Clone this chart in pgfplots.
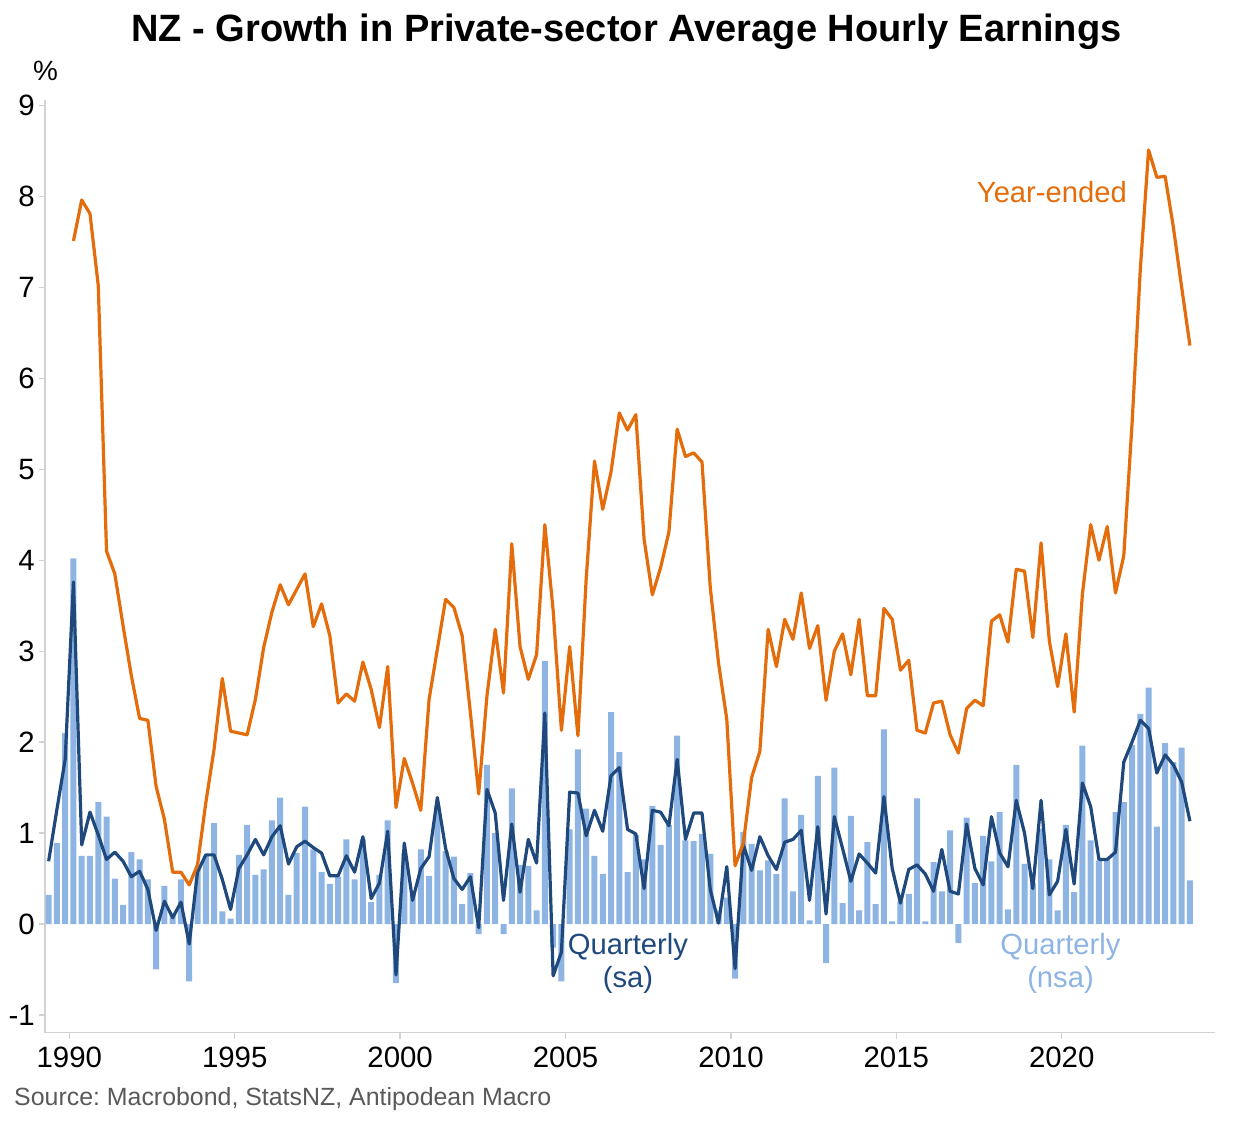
\documentclass[border=0pt]{standalone}
\usepackage{fontspec}
\setmainfont{Liberation Sans}
\usepackage{pgfplots}
\usepackage{pgfplotstable}
\pgfplotsset{compat=1.18}
\definecolor{orangeye}{RGB}{228,108,10}
\definecolor{darkblue}{RGB}{31,73,125}
\definecolor{lightblue}{RGB}{142,180,227}
\definecolor{axisgray}{RGB}{210,210,210}
\definecolor{srcgray}{RGB}{89,89,89}

\pgfplotstableread{
t nsa sa ye
1989.375 0.32 0.69 nan
1989.625 0.89 1.26 nan
1989.875 2.10 1.81 nan
1990.125 4.02 3.76 7.51
1990.375 0.75 0.87 7.96
1990.625 0.75 1.23 7.81
1990.875 1.34 0.98 7.02
1991.125 1.18 0.71 4.10
1991.375 0.50 0.79 3.85
1991.625 0.21 0.69 3.28
1991.875 0.79 0.52 2.73
1992.125 0.71 0.58 2.26
1992.375 0.49 0.38 2.24
1992.625 -0.50 -0.07 1.51
1992.875 0.42 0.25 1.15
1993.125 0.10 0.07 0.57
1993.375 0.49 0.24 0.57
1993.625 -0.63 -0.22 0.43
1993.875 0.60 0.57 0.65
1994.125 0.75 0.76 1.33
1994.375 1.11 0.76 1.92
1994.625 0.14 0.49 2.70
1994.875 0.06 0.16 2.12
1995.125 0.76 0.61 2.10
1995.375 1.09 0.76 2.08
1995.625 0.54 0.93 2.47
1995.875 0.60 0.76 3.04
1996.125 1.14 0.96 3.43
1996.375 1.39 1.08 3.73
1996.625 0.32 0.66 3.51
1996.875 0.78 0.85 3.68
1997.125 1.29 0.91 3.85
1997.375 0.82 0.84 3.27
1997.625 0.57 0.78 3.52
1997.875 0.44 0.53 3.17
1998.125 0.52 0.53 2.43
1998.375 0.93 0.75 2.53
1998.625 0.49 0.57 2.45
1998.875 0.93 0.96 2.88
1999.125 0.24 0.28 2.58
1999.375 0.54 0.45 2.16
1999.625 1.14 1.02 2.83
1999.875 -0.65 -0.56 1.28
2000.125 0.78 0.89 1.82
2000.375 0.32 0.26 1.55
2000.625 0.82 0.61 1.25
2000.875 0.53 0.74 2.47
2001.125 1.30 1.39 3.02
2001.375 0.80 0.83 3.57
2001.625 0.74 0.50 3.48
2001.875 0.22 0.38 3.17
2002.125 0.56 0.52 2.32
2002.375 -0.11 -0.04 1.43
2002.625 1.75 1.48 2.51
2002.875 1.00 1.22 3.24
2003.125 -0.11 0.26 2.54
2003.375 1.49 1.10 4.18
2003.625 0.65 0.35 3.05
2003.875 0.64 0.93 2.69
2004.125 0.15 0.67 2.96
2004.375 2.89 2.32 4.39
2004.625 -0.26 -0.57 3.45
2004.875 -0.63 -0.31 2.13
2005.125 1.04 1.45 3.05
2005.375 1.92 1.44 2.07
2005.625 1.27 0.97 3.80
2005.875 0.75 1.25 5.09
2006.125 0.55 1.02 4.56
2006.375 2.33 1.63 4.97
2006.625 1.89 1.72 5.62
2006.875 0.57 1.04 5.43
2007.125 0.98 0.99 5.60
2007.375 0.71 0.39 4.23
2007.625 1.30 1.25 3.62
2007.875 0.87 1.23 3.92
2008.125 1.09 1.08 4.31
2008.375 2.07 1.81 5.44
2008.625 0.92 0.93 5.14
2008.875 0.91 1.22 5.18
2009.125 0.99 1.22 5.08
2009.375 0.77 0.38 3.70
2009.625 0.15 0.01 2.87
2009.875 0.29 0.63 2.25
2010.125 -0.60 -0.49 0.64
2010.375 1.01 0.87 0.89
2010.625 0.88 0.59 1.61
2010.875 0.59 0.96 1.90
2011.125 0.70 0.75 3.24
2011.375 0.55 0.60 2.83
2011.625 1.38 0.90 3.35
2011.875 0.36 0.93 3.13
2012.125 1.20 1.03 3.64
2012.375 0.04 0.26 3.03
2012.625 1.63 1.07 3.28
2012.875 -0.43 0.11 2.46
2013.125 1.72 1.18 3.00
2013.375 0.23 0.83 3.19
2013.625 1.19 0.47 2.74
2013.875 0.15 0.77 3.35
2014.125 0.90 0.67 2.51
2014.375 0.22 0.56 2.51
2014.625 2.14 1.40 3.47
2014.875 0.03 0.61 3.35
2015.125 0.25 0.23 2.79
2015.375 0.33 0.60 2.90
2015.625 1.38 0.65 2.13
2015.875 0.03 0.55 2.10
2016.125 0.68 0.36 2.43
2016.375 0.36 0.82 2.45
2016.625 1.03 0.36 2.08
2016.875 -0.21 0.33 1.88
2017.125 1.17 1.10 2.37
2017.375 0.45 0.61 2.46
2017.625 0.97 0.43 2.40
2017.875 0.69 1.18 3.33
2018.125 1.23 0.78 3.40
2018.375 0.16 0.63 3.10
2018.625 1.75 1.36 3.90
2018.875 0.66 1.00 3.88
2019.125 0.45 0.39 3.15
2019.375 1.05 1.36 4.19
2019.625 0.71 0.32 3.11
2019.875 0.15 0.47 2.61
2020.125 1.09 1.04 3.19
2020.375 0.35 0.44 2.33
2020.625 1.96 1.55 3.63
2020.875 0.92 1.29 4.39
2021.125 0.70 0.71 4.00
2021.375 0.70 0.71 4.37
2021.625 1.23 0.79 3.64
2021.875 1.34 1.78 4.05
2022.125 1.97 2.00 5.50
2022.375 2.31 2.24 7.20
2022.625 2.60 2.15 8.51
2022.875 1.07 1.66 8.21
2023.125 1.99 1.86 8.22
2023.375 1.78 1.75 7.66
2023.625 1.94 1.56 7.00
2023.875 0.48 1.13 6.36
}\datatable

\begin{document}
\frenchspacing
\begin{tikzpicture}
\path[use as bounding box] (0,0) rectangle (1253bp,1122bp);
\begin{axis}[
  at={(45bp,89.3bp)}, anchor=south west,
  scale only axis, width=1170bp, height=932.7bp,
  xmin=1989.265, xmax=2024.634, ymin=-1.195, ymax=9.06,
  axis x line*=bottom, axis y line*=left,
  axis line style={axisgray, line width=1.3bp},
  xtick={1990,1995,2000,2005,2010,2015,2020},
  ytick={-1,0,1,2,3,4,5,6,7,8,9},
  tick align=outside, major tick length=6bp,
  tick style={axisgray, line width=1.3bp},
  /pgf/number format/assume math mode=true,
  /pgf/number format/1000 sep={},
  xticklabel style={font=\fontsize{29.5}{30}\selectfont, anchor=north, inner sep=0pt, yshift=-8bp},
  yticklabel style={font=\fontsize{29.5}{30}\selectfont, anchor=east, inner sep=0pt, xshift=-4bp},
]
\addplot[ybar, bar width=6bp, bar shift=0pt, fill=lightblue, draw=none] table[x=t, y=nsa]{\datatable};
\addplot[darkblue, line width=3.2bp, no markers, line join=round] table[x=t, y=sa]{\datatable};
\addplot[orangeye, line width=3.2bp, no markers, line join=round] table[x=t, y=ye]{\datatable};
\end{axis}
\node[font=\bfseries\fontsize{38.2}{40}\selectfont, anchor=base] at (626.5bp,1080bp) {NZ - Growth in Private-sector Average Hourly Earnings};
\node[font=\fontsize{28}{30}\selectfont, anchor=base, inner sep=0pt] at (45.5bp,1041bp) {\%};
\node[font=\fontsize{25}{26}\selectfont, anchor=base west, inner sep=0pt, text=srcgray] at (14bp,17bp) {Source: Macrobond, StatsNZ, Antipodean Macro};
\node[font=\fontsize{29.3}{30}\selectfont, anchor=base east, inner sep=0pt, text=orangeye] at (1127bp,919.5bp) {Year-ended};
\node[font=\fontsize{29.3}{30}\selectfont, anchor=base, inner sep=0pt, text=darkblue] at (628bp,167bp) {Quarterly};
\node[font=\fontsize{29.3}{30}\selectfont, anchor=base, inner sep=0pt, text=darkblue] at (628bp,134bp) {(sa)};
\node[font=\fontsize{29.3}{30}\selectfont, anchor=base, inner sep=0pt, text=lightblue] at (1060.5bp,167bp) {Quarterly};
\node[font=\fontsize{29.3}{30}\selectfont, anchor=base, inner sep=0pt, text=lightblue] at (1060.5bp,134bp) {(nsa)};
\end{tikzpicture}
\end{document}
